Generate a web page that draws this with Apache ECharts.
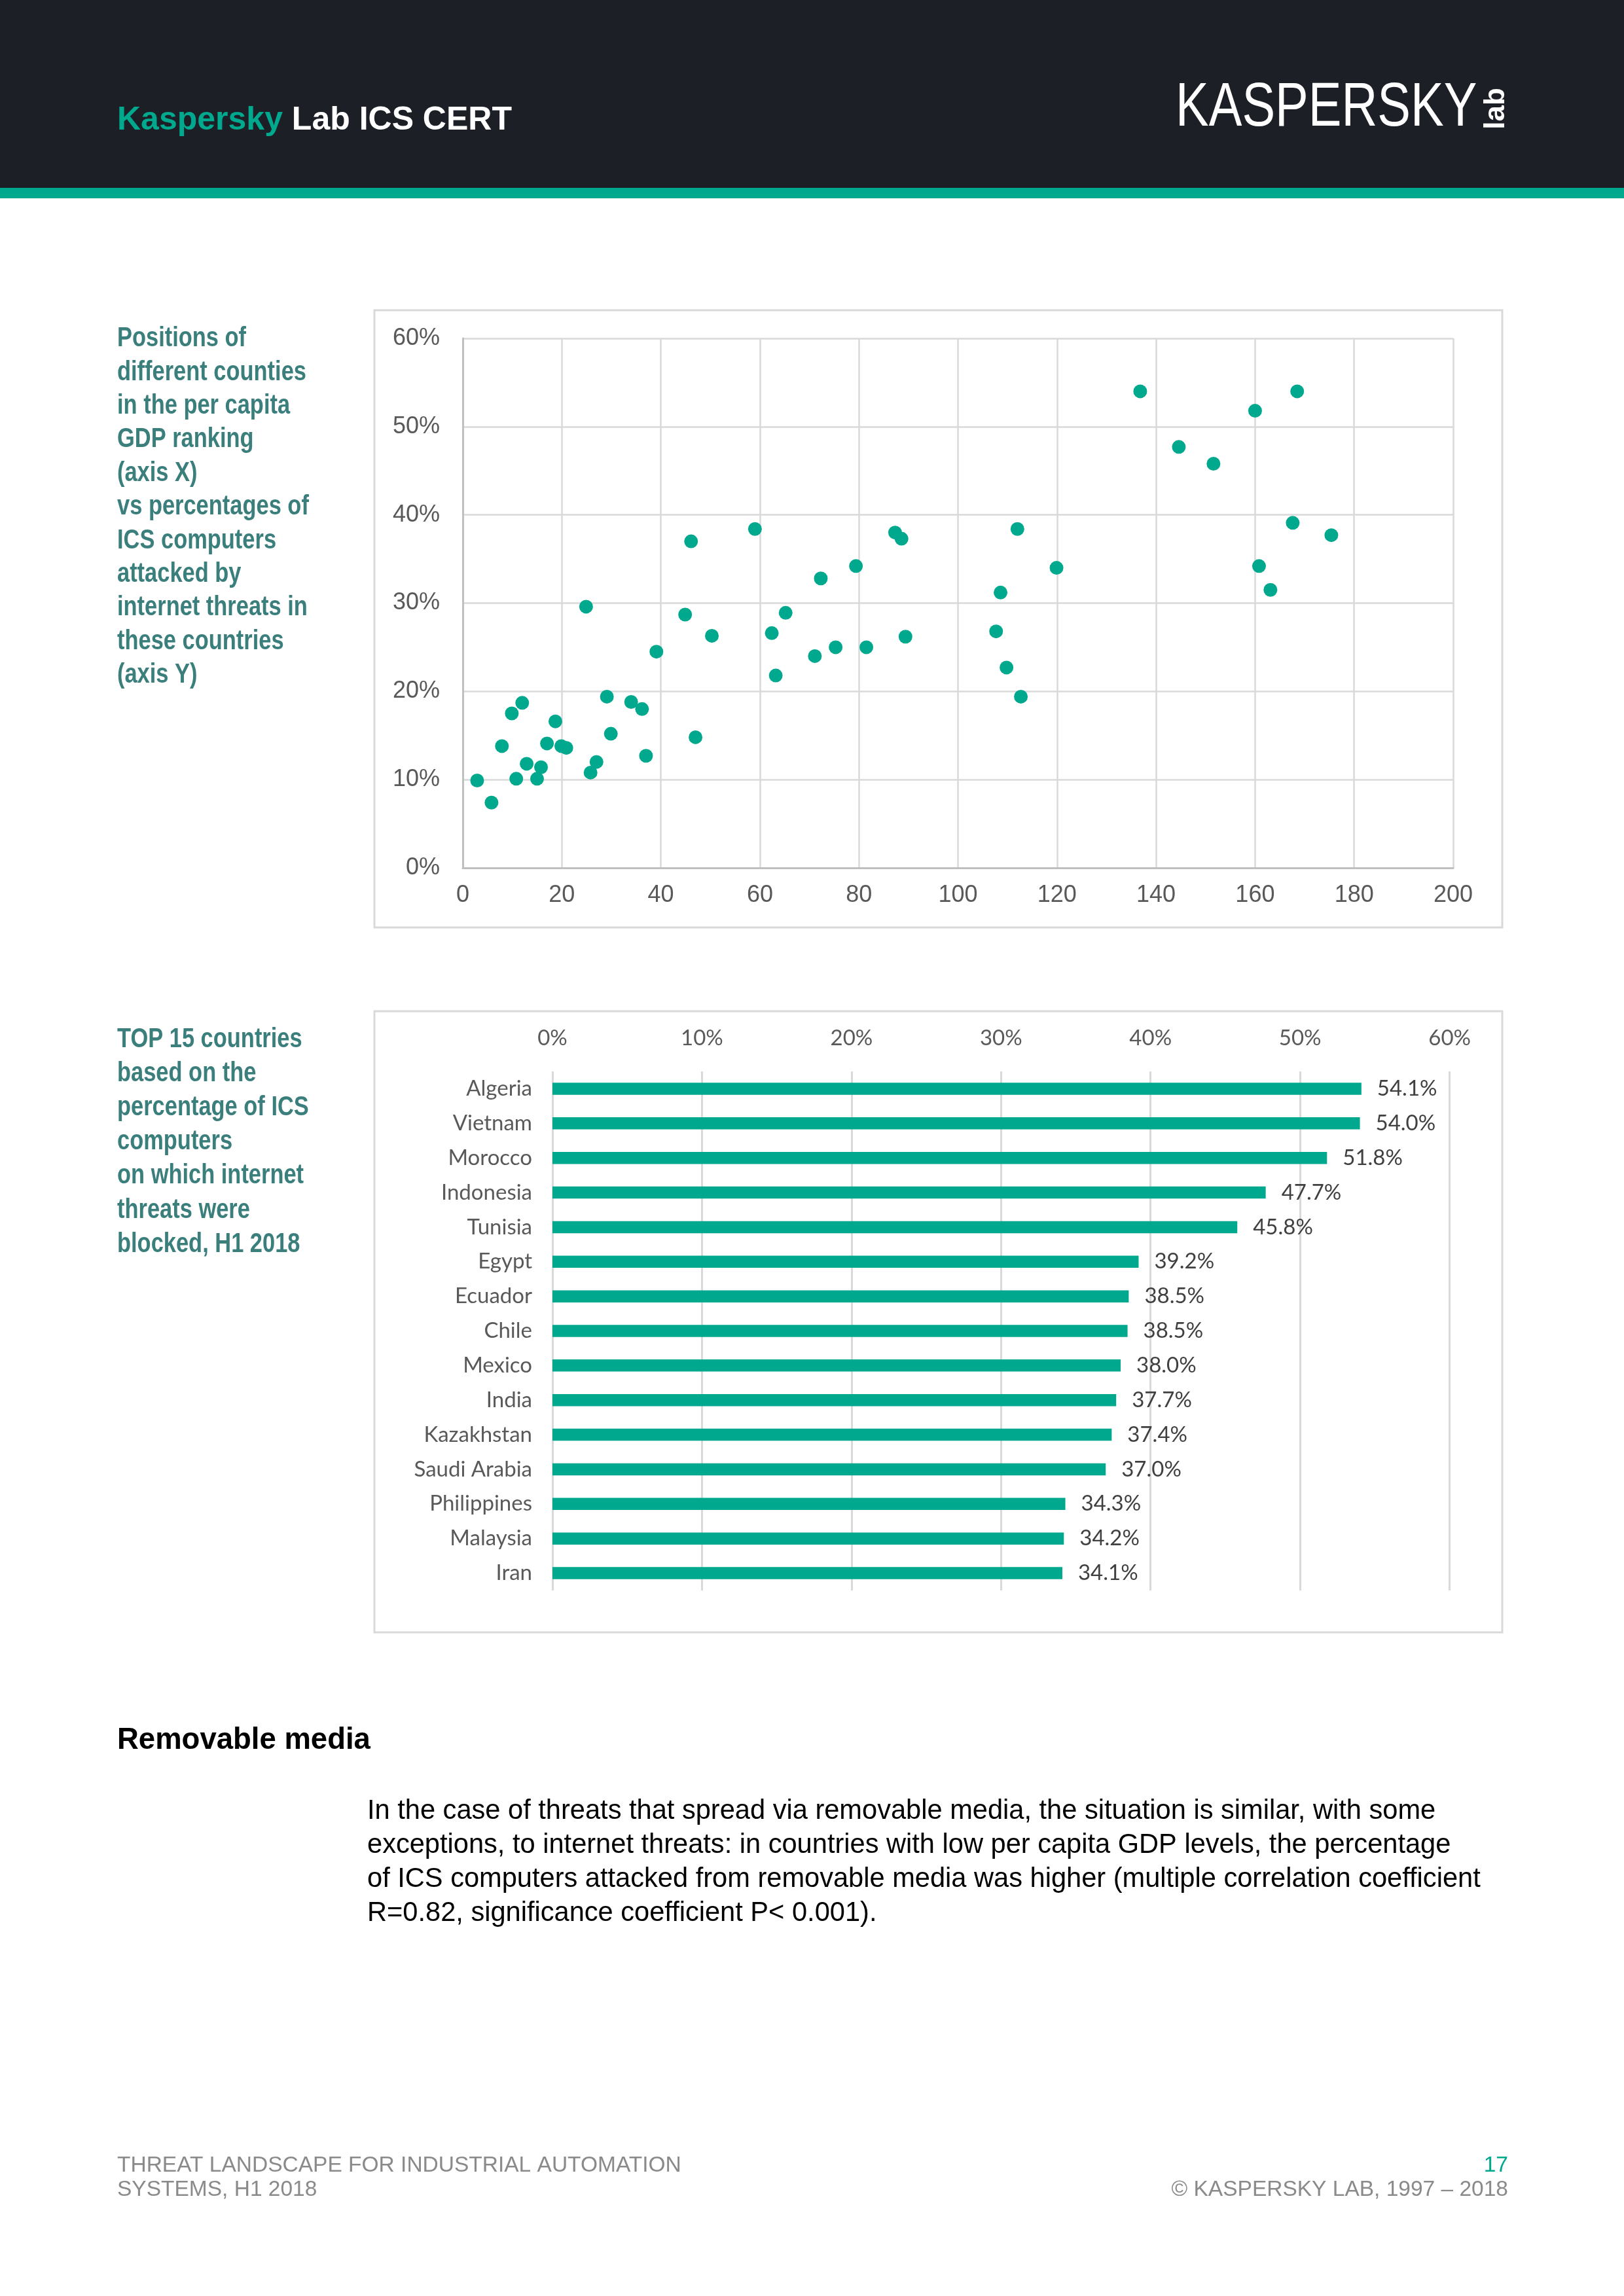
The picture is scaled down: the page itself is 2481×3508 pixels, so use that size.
<!DOCTYPE html>
<html>
<head>
<meta charset="utf-8">
<title>Kaspersky Lab ICS CERT</title>
<script src="https://cdn.jsdelivr.net/npm/echarts@6/dist/echarts.min.js"></script>
<style>
html,body{margin:0;padding:0;background:#fff;}
#page{width:2481px;height:3508px;}
</style>
</head>
<body>
<div id="page"></div>
<script>
// ---- Scatter: per-capita GDP rank (X) vs % of ICS computers attacked (Y)
const gdpRank = [2.9, 5.8, 7.9, 9.9, 12.0, 10.8, 12.9, 15.0, 15.8, 17.0, 18.7, 19.9, 20.9, 24.9, 25.8, 27.0, 29.1, 29.9, 34.0, 36.2, 37.0, 39.1, 44.9, 46.1, 47.0, 50.3, 59.0, 62.4, 63.2, 65.2, 71.1, 72.3, 75.3, 79.4, 81.5, 87.3, 88.6, 89.4, 136.8, 168.5, 160.0, 144.6, 151.6, 112.0, 167.6, 175.4, 119.9, 160.8, 108.6, 163.1, 107.7, 109.8, 112.7];
const attackedPct = [9.9, 7.4, 13.8, 17.5, 18.7, 10.1, 11.8, 10.1, 11.4, 14.1, 16.6, 13.8, 13.6, 29.6, 10.8, 12.0, 19.4, 15.2, 18.8, 18.0, 12.7, 24.5, 28.7, 37.0, 14.8, 26.3, 38.4, 26.6, 21.8, 28.9, 24.0, 32.8, 25.0, 34.2, 25.0, 38.0, 37.3, 26.2, 54.0, 54.0, 51.8, 47.7, 45.8, 38.4, 39.1, 37.7, 34.0, 34.2, 31.2, 31.5, 26.8, 22.7, 19.4];
const xTicks = {min: 0, max: 200, interval: 20};
const yTicks = {min: 0, max: 60, interval: 10};

// ---- Bar: TOP 15 countries
const countries = ['Algeria', 'Vietnam', 'Morocco', 'Indonesia', 'Tunisia', 'Egypt', 'Ecuador', 'Chile', 'Mexico', 'India', 'Kazakhstan', 'Saudi Arabia', 'Philippines', 'Malaysia', 'Iran'];
const countryPct = [54.1, 54.0, 51.8, 47.7, 45.8, 39.2, 38.54, 38.46, 38.0, 37.7, 37.4, 37.0, 34.3, 34.2, 34.1];
const barTicks = {min: 0, max: 60, interval: 10};

// ---- Page texts
const caption1 = ['Positions of', 'different counties', 'in the per capita', 'GDP ranking', '(axis X)', 'vs percentages of', 'ICS computers', 'attacked by', 'internet threats in', 'these countries', '(axis Y)'];
const caption2 = ['TOP 15 countries', 'based on the', 'percentage of ICS', 'computers', 'on which internet', 'threats were', 'blocked, H1 2018'];
const paragraph = [
  'In the case of threats that spread via removable media, the situation is similar, with some',
  'exceptions, to internet threats: in countries with low per capita GDP levels, the percentage',
  'of ICS computers attacked from removable media was higher (multiple correlation coefficient',
  'R=0.82, significance coefficient P< 0.001).'
];

const TEAL = '#00a88e';
const CAPTION = '#3b7f7d';
const SANS = "'Liberation Sans', Arial, sans-serif";
const EXCEL = "Lato, 'Open Sans', sans-serif";

const chart = echarts.init(document.getElementById('page'), null, {width: 2481, height: 3508});

function textEl(text, x, y, size, color, opts) {
  opts = opts || {};
  return {
    type: 'text', x: x, y: y, silent: true,
    rotation: opts.rotation || 0,
    scaleX: opts.scaleX || 1,
    style: {
      text: text, x: 0, y: 0,
      fill: color,
      fontSize: size,
      fontFamily: opts.family || SANS,
      fontWeight: opts.weight || 'normal',
      lineHeight: opts.lineHeight || undefined,
      align: opts.align || 'left', textAlign: opts.align || 'left',
      verticalAlign: opts.valign || 'middle', textVerticalAlign: opts.valign || 'middle',
      rich: opts.rich
    }
  };
}

const graphics = [
  {type: 'rect', shape: {x: 0, y: 0, width: 2481, height: 287}, style: {fill: '#1d1f27'}, silent: true},
  {type: 'rect', shape: {x: 0, y: 287, width: 2481, height: 16}, style: {fill: TEAL}, silent: true},
  textEl('{a|Kaspersky} {b|Lab ICS CERT}', 179, 184, 50, '#ffffff', {
    weight: 'bold',
    rich: {
      a: {fill: TEAL, color: TEAL, fontSize: 50, fontWeight: 'bold', fontFamily: SANS},
      b: {fill: '#ffffff', color: '#ffffff', fontSize: 50, fontWeight: 'bold', fontFamily: SANS}
    }
  }),
  textEl('KASPERSKY', 1796, 166, 95, '#ffffff', {scaleX: 0.8}),
  textEl('lab', 2286, 166, 44, '#ffffff', {weight: 'bold', align: 'center', rotation: Math.PI / 2}),
  // chart frames
  {type: 'rect', shape: {x: 572, y: 474, width: 1723, height: 943}, style: {fill: 'none', stroke: '#d9d9d9', lineWidth: 3}, silent: true},
  {type: 'rect', shape: {x: 572, y: 1545, width: 1723, height: 949}, style: {fill: 'none', stroke: '#d9d9d9', lineWidth: 3}, silent: true},
  // side captions
  textEl(caption1.join('\n'), 179, 492, 42, CAPTION, {weight: 'bold', lineHeight: 51.4, valign: 'top', scaleX: 0.82}),
  textEl(caption2.join('\n'), 179, 1562, 42, CAPTION, {weight: 'bold', lineHeight: 52.2, valign: 'top', scaleX: 0.82}),
  // removable media
  textEl('Removable media', 179, 2659, 45.5, '#000000', {weight: 'bold'}),
  textEl(paragraph.join('\n'), 561, 2742, 41.6, '#000000', {lineHeight: 51.8, valign: 'top'}),
  // footer
  textEl('THREAT LANDSCAPE FOR INDUSTRIAL AUTOMATION\nSYSTEMS, H1 2018', 179, 3290, 33.5, '#8a8a8a', {lineHeight: 37.5, valign: 'top'}),
  textEl('17', 2304, 3309, 33.5, TEAL, {align: 'right'}),
  textEl('\u00A9 KASPERSKY LAB, 1997 \u2013 2018', 2304, 3346, 33.5, '#8a8a8a', {align: 'right'})
];

const option = {
  backgroundColor: '#ffffff',
  animation: false,
  grid: [
    {left: 707, top: 517, width: 1513, height: 809, containLabel: false},
    {left: 844, top: 1637, width: 1370.6, height: 793, containLabel: false}
  ],
  xAxis: [
    {
      gridIndex: 0, type: 'value', min: xTicks.min, max: xTicks.max, interval: xTicks.interval,
      axisLine: {show: true, onZero: false, lineStyle: {color: '#bfbfbf', width: 3}},
      axisTick: {show: false},
      splitLine: {show: true, lineStyle: {color: '#d9d9d9', width: 2.5}},
      axisLabel: {color: '#595959', fontSize: 36, fontFamily: SANS, margin: 24}
    },
    {
      gridIndex: 1, type: 'value', position: 'top', min: barTicks.min, max: barTicks.max, interval: barTicks.interval,
      axisLine: {show: false},
      axisTick: {show: false},
      splitLine: {show: true, lineStyle: {color: '#d9d9d9', width: 3}},
      axisLabel: {color: '#595959', fontSize: 33, fontFamily: EXCEL, margin: 34, formatter: '{value}%'}
    }
  ],
  yAxis: [
    {
      gridIndex: 0, type: 'value', min: yTicks.min, max: yTicks.max, interval: yTicks.interval,
      axisLine: {show: true, onZero: false, lineStyle: {color: '#bfbfbf', width: 3}},
      axisTick: {show: false},
      splitLine: {show: true, lineStyle: {color: '#d9d9d9', width: 2.5}},
      axisLabel: {color: '#595959', fontSize: 36, fontFamily: SANS, margin: 35, formatter: '{value}%'}
    },
    {
      gridIndex: 1, type: 'category', inverse: true, data: countries,
      axisLine: {show: false},
      axisTick: {show: false},
      splitLine: {show: false},
      axisLabel: {color: '#595959', fontSize: 33, fontFamily: EXCEL, margin: 31}
    }
  ],
  series: [
    {
      type: 'scatter', xAxisIndex: 0, yAxisIndex: 0,
      symbol: 'circle', symbolSize: 21,
      itemStyle: {color: TEAL, opacity: 1},
      data: gdpRank.map((x, i) => [x, attackedPct[i]])
    },
    {
      type: 'bar', xAxisIndex: 1, yAxisIndex: 1,
      barWidth: 18.5,
      itemStyle: {color: TEAL},
      label: {
        show: true, position: 'right', distance: 24,
        color: '#404040', fontSize: 33, fontFamily: EXCEL,
        formatter: p => p.value.toFixed(1) + '%'
      },
      data: countryPct
    }
  ],
  graphic: {elements: graphics}
};

chart.setOption(option);
</script>
</body>
</html>
